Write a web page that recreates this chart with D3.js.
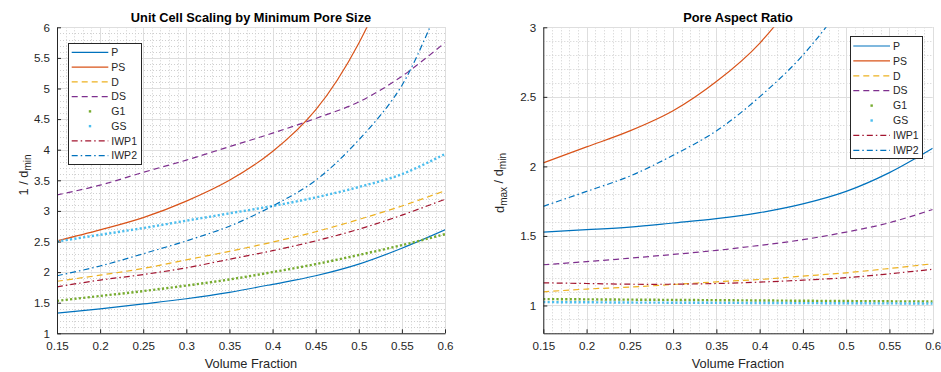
<!DOCTYPE html>
<html>
<head>
    <meta charset="utf-8">
    <script src="https://d3js.org/d3.v7.min.js"></script>
    <style type="text/css">
        body { margin: 0; background: #fff; }
        svg { display: block; font-family: "Liberation Sans", Arial, sans-serif; }
    </style>
</head>
<body>
<script type="text/javascript">
    // volume fraction samples (x axis)
    var volumeFraction = [0.15, 0.2, 0.25, 0.3, 0.35, 0.4, 0.45, 0.5, 0.55, 0.6];
    var seriesNames = ["P", "PS", "D", "DS", "G1", "GS", "IWP1", "IWP2"];

    // left panel: 1 / d_min
    var scaleP    = [1.33, 1.40, 1.48, 1.565, 1.67, 1.80, 1.94, 2.13, 2.39, 2.69];
    var scalePS   = [2.51, 2.69, 2.89, 3.16, 3.50, 3.97, 4.65, 5.74, 7.4, 10.0];
    var scaleD    = [1.85, 1.95, 2.06, 2.20, 2.34, 2.49, 2.66, 2.86, 3.08, 3.33];
    var scaleDS   = [3.26, 3.42, 3.63, 3.83, 4.05, 4.27, 4.51, 4.78, 5.20, 5.75];
    var scaleG1   = [1.53, 1.61, 1.69, 1.78, 1.88, 2.00, 2.13, 2.28, 2.44, 2.62];
    var scaleGS   = [2.50, 2.61, 2.72, 2.84, 2.96, 3.08, 3.22, 3.39, 3.60, 3.93];
    var scaleIWP1 = [1.76, 1.87, 1.96, 2.07, 2.21, 2.35, 2.51, 2.70, 2.93, 3.19];
    var scaleIWP2 = [1.94, 2.10, 2.30, 2.51, 2.75, 3.08, 3.50, 4.16, 5.05, 6.6];

    // right panel: d_max / d_min
    var aspectP    = [1.528, 1.545, 1.564, 1.593, 1.624, 1.667, 1.73, 1.82, 1.955, 2.13];
    var aspectPS   = [2.025, 2.14, 2.255, 2.40, 2.61, 2.885, 3.3, 4.0, 5.0, 6.5];
    var aspectD    = [1.098, 1.118, 1.132, 1.151, 1.17, 1.187, 1.211, 1.235, 1.266, 1.30];
    var aspectDS   = [1.293, 1.315, 1.34, 1.367, 1.396, 1.432, 1.473, 1.528, 1.595, 1.69];
    var aspectG1   = [1.046, 1.044, 1.042, 1.040, 1.038, 1.036, 1.034, 1.032, 1.030, 1.029];
    var aspectGS   = [1.024, 1.023, 1.021, 1.020, 1.019, 1.018, 1.017, 1.016, 1.015, 1.014];
    var aspectIWP1 = [1.163, 1.158, 1.153, 1.153, 1.158, 1.168, 1.182, 1.20, 1.228, 1.26];
    var aspectIWP2 = [1.713, 1.82, 1.93, 2.08, 2.255, 2.50, 2.80, 3.2, 3.7, 4.4];

    var xTicks = [0.15, 0.2, 0.25, 0.3, 0.35, 0.4, 0.45, 0.5, 0.55, 0.6];
    var leftYTicks = [1, 1.5, 2, 2.5, 3, 3.5, 4, 4.5, 5, 5.5, 6];
    var rightYTicks = [1, 1.5, 2, 2.5, 3];

    // matlab-ish styling per series
    var styles = {
        P:    {color: "#0072BD", dash: null,            width: 1.2},
        PS:   {color: "#D95319", dash: null,            width: 1.2},
        D:    {color: "#EDB120", dash: "6,4",           width: 1.2},
        DS:   {color: "#7E2F8E", dash: "6,4",           width: 1.2},
        G1:   {color: "#77AC30", dash: "2.2,2.2",       width: 2.4, dot: true},
        GS:   {color: "#4DBEEE", dash: "2.2,2.2",       width: 2.4, dot: true},
        IWP1: {color: "#A2142F", dash: "6,3,1.5,3",     width: 1.2},
        IWP2: {color: "#0072BD", dash: "6,3,1.5,3",     width: 1.2}
    };

    var W = 941, H = 372;
    var svg = d3.select("body").append("svg").attr("width", W).attr("height", H);
    var axisColor = "#262626";

    function drawPanel(cfg) {
        var x = d3.scaleLinear().domain([0.15, 0.6]).range([cfg.left, cfg.right]);
        var y = d3.scaleLinear().domain(cfg.yDomain).range([cfg.bottom, cfg.top]);
        var g = svg.append("g");

        // minor grid (dotted)
        var xMinor = d3.range(0.15, 0.6001, 0.01).map(function(v) { return +v.toFixed(2); });
        var yMinor = d3.range(cfg.yDomain[0], cfg.yDomain[1] + 0.0001, 0.1).map(function(v) { return +v.toFixed(2); });
        g.selectAll(".xminor").data(xMinor).enter().append("line")
            .attr("x1", function(d) { return Math.round(x(d)) + 0.5; })
            .attr("x2", function(d) { return Math.round(x(d)) + 0.5; })
            .attr("y1", cfg.top).attr("y2", cfg.bottom)
            .attr("stroke", "#cfcfcf").attr("stroke-width", 1).attr("stroke-dasharray", "1,2");
        g.selectAll(".yminor").data(yMinor).enter().append("line")
            .attr("y1", function(d) { return Math.round(y(d)) + 0.5; })
            .attr("y2", function(d) { return Math.round(y(d)) + 0.5; })
            .attr("x1", cfg.left).attr("x2", cfg.right)
            .attr("stroke", "#cfcfcf").attr("stroke-width", 1).attr("stroke-dasharray", "1,2");

        // major grid
        g.selectAll(".xmajor").data(xTicks).enter().append("line")
            .attr("x1", function(d) { return Math.round(x(d)) + 0.5; })
            .attr("x2", function(d) { return Math.round(x(d)) + 0.5; })
            .attr("y1", cfg.top).attr("y2", cfg.bottom)
            .attr("stroke", "#dedede").attr("stroke-width", 1);
        g.selectAll(".ymajor").data(cfg.yTicks).enter().append("line")
            .attr("y1", function(d) { return Math.round(y(d)) + 0.5; })
            .attr("y2", function(d) { return Math.round(y(d)) + 0.5; })
            .attr("x1", cfg.left).attr("x2", cfg.right)
            .attr("stroke", "#dedede").attr("stroke-width", 1);

        // curves, clipped to the plot area
        var clipId = "clip" + Math.round(cfg.left);
        svg.append("clipPath").attr("id", clipId).append("rect")
            .attr("x", cfg.left).attr("y", cfg.top)
            .attr("width", cfg.right - cfg.left).attr("height", cfg.bottom - cfg.top);

        var line = d3.line()
            .x(function(d) { return x(d[0]); })
            .y(function(d) { return y(d[1]); })
            .curve(d3.curveCatmullRom.alpha(0.5));

        var curves = g.append("g").attr("clip-path", "url(#" + clipId + ")");
        seriesNames.forEach(function(name) {
            var st = styles[name];
            var pts = volumeFraction.map(function(v, i) { return [v, cfg.values[name][i]]; });
            curves.append("path")
                .attr("d", line(pts))
                .attr("fill", "none")
                .attr("stroke", st.color)
                .attr("stroke-width", st.width)
                .attr("stroke-dasharray", st.dash);
        });

        // axes (left + bottom only, ticks inward)
        var xAxis = d3.axisBottom(x).tickValues(xTicks).tickSizeInner(-4).tickSizeOuter(0)
            .tickPadding(8).tickFormat(d3.format("~g"));
        var yAxis = d3.axisLeft(y).tickValues(cfg.yTicks).tickSizeInner(-4).tickSizeOuter(0)
            .tickPadding(7).tickFormat(d3.format("~g"));

        var gx = g.append("g").attr("transform", "translate(0," + cfg.bottom + ")").call(xAxis);
        var gy = g.append("g").attr("transform", "translate(" + cfg.left + ",0)").call(yAxis);
        [gx, gy].forEach(function(a) {
            a.select(".domain").attr("stroke", axisColor).attr("stroke-width", 1);
            a.selectAll(".tick line").attr("stroke", axisColor);
            a.selectAll(".tick text").attr("fill", axisColor).style("font-size", "11.6px")
                .style("font-family", "'Liberation Sans', Arial, sans-serif");
        });
        gx.selectAll(".tick text").attr("dy", "0.71em");

        // title
        svg.append("text")
            .attr("x", (cfg.left + cfg.right) / 2).attr("y", 22)
            .attr("text-anchor", "middle")
            .style("font-size", "12.8px").style("font-weight", "bold")
            .attr("fill", "#000")
            .text(cfg.title);

        // x label
        svg.append("text")
            .attr("x", (cfg.left + cfg.right) / 2).attr("y", 368)
            .attr("text-anchor", "middle")
            .style("font-size", "12.8px").attr("fill", axisColor)
            .text("Volume Fraction");

        // y label with subscripts
        var yl = svg.append("text")
            .attr("transform", "translate(" + cfg.yLabelX + "," + cfg.yLabelY + ") rotate(-90)")
            .attr("text-anchor", "middle")
            .style("font-size", "12.8px").attr("fill", axisColor);
        cfg.yLabel.forEach(function(part) {
            var t = yl.append("tspan").text(part.t);
            if (part.sub) t.attr("dy", "0.3em").style("font-size", "10px");
            else if (part.after) t.attr("dy", "-0.3em");
        });

        // legend
        var lg = svg.append("g");
        var L = cfg.legend;
        lg.append("rect")
            .attr("x", L.x + 0.5).attr("y", L.y + 0.5)
            .attr("width", L.w).attr("height", L.h)
            .attr("fill", "#fff").attr("stroke", axisColor).attr("stroke-width", 1);
        seriesNames.forEach(function(name, i) {
            var st = styles[name];
            var ry = L.firstRow + i * L.step;
            if (st.dot) {
                lg.append("rect")
                    .attr("x", (L.lx1 + L.lx2) / 2 - 1.2).attr("y", ry - 1.2)
                    .attr("width", 2.4).attr("height", 2.4)
                    .attr("fill", st.color);
            } else {
                lg.append("line")
                    .attr("x1", L.lx1).attr("x2", L.lx2)
                    .attr("y1", ry).attr("y2", ry)
                    .attr("stroke", st.color).attr("stroke-width", 1.2)
                    .attr("stroke-dasharray", st.dash);
            }
            lg.append("text")
                .attr("x", L.lx2 + 3).attr("y", ry).attr("dy", "0.36em")
                .style("font-size", "10.5px").attr("fill", axisColor)
                .text(name);
        });
    }

    drawPanel({
        left: 57, right: 445, top: 27.3, bottom: 333.3,
        yDomain: [1, 6], yTicks: leftYTicks,
        title: "Unit Cell Scaling by Minimum Pore Size",
        yLabelX: 28, yLabelY: 175,
        yLabel: [{t: "1 / d"}, {t: "min", sub: true}],
        values: {P: scaleP, PS: scalePS, D: scaleD, DS: scaleDS, G1: scaleG1, GS: scaleGS, IWP1: scaleIWP1, IWP2: scaleIWP2},
        legend: {x: 68, y: 43, w: 73, h: 121, lx1: 71.7, lx2: 108.3, firstRow: 52.3, step: 14.77}
    });

    drawPanel({
        left: 543.3, right: 932.7, top: 27.3, bottom: 333.3,
        yDomain: [0.8, 3], yTicks: rightYTicks,
        title: "Pore Aspect Ratio",
        yLabelX: 504, yLabelY: 183,
        yLabel: [{t: "d"}, {t: "max", sub: true}, {t: " / d", after: true}, {t: "min", sub: true}],
        values: {P: aspectP, PS: aspectPS, D: aspectD, DS: aspectDS, G1: aspectG1, GS: aspectGS, IWP1: aspectIWP1, IWP2: aspectIWP2},
        legend: {x: 850, y: 36, w: 72, h: 122, lx1: 853.3, lx2: 890, firstRow: 46, step: 14.9}
    });
</script>
</body>
</html>
